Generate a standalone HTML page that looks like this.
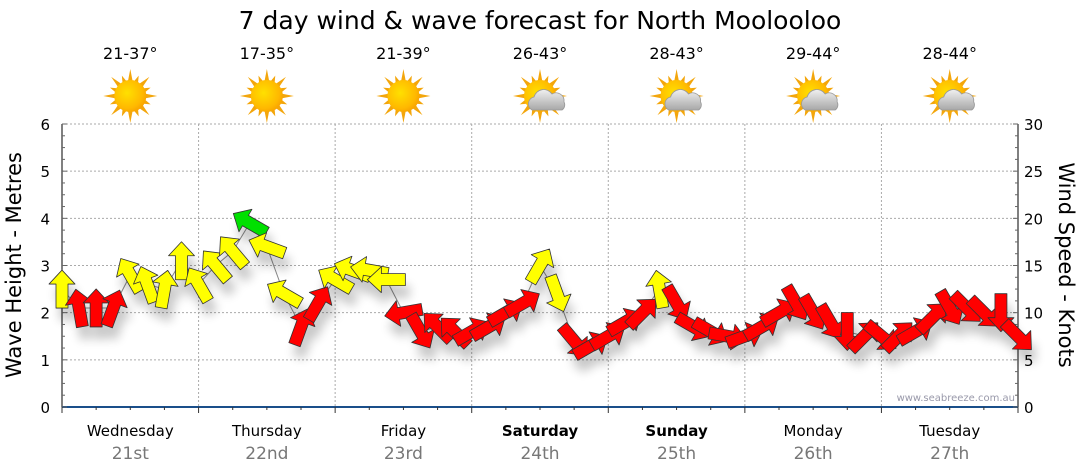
<!DOCTYPE html>
<html><head><meta charset="utf-8"><style>
body{margin:0;background:#fff;}
svg{display:block;font-family:"DejaVu Sans","Liberation Sans",sans-serif;}
</style></head><body>
<svg id="c" width="1080" height="475" viewBox="0 0 1080 475">
<defs>
<filter id="sh" x="-50%" y="-50%" width="200%" height="200%"><feGaussianBlur in="SourceAlpha" stdDeviation="5"/><feOffset dx="4" dy="12"/><feComponentTransfer><feFuncA type="linear" slope="0.22"/></feComponentTransfer><feMerge><feMergeNode/><feMergeNode in="SourceGraphic"/></feMerge></filter>
<radialGradient id="sun" cx="0.4" cy="0.4" r="0.7"><stop offset="0" stop-color="#ffe000"/><stop offset="0.7" stop-color="#ffb800"/><stop offset="1" stop-color="#f59a00"/></radialGradient>
<linearGradient id="cloud" x1="0" y1="0" x2="0" y2="1"><stop offset="0" stop-color="#f0f0f0"/><stop offset="1" stop-color="#a8a8a8"/></linearGradient>
</defs>
<text x="540" y="29" font-size="25" text-anchor="middle" fill="#000">7 day wind &amp; wave forecast for North Moolooloo</text>
<g id="grid"></g>
<g id="icons"></g>
<g id="axes"></g>
<g id="marks" filter="url(#sh)"></g>
<text x="1015" y="401" font-size="10" fill="#99a" text-anchor="end">www.seabreeze.com.au</text>
<text transform="translate(21,265) rotate(-90)" font-size="21" text-anchor="middle">Wave Height - Metres</text>
<text transform="translate(1059,265) rotate(90)" font-size="21" text-anchor="middle">Wind Speed - Knots</text>
</svg>
<script>
const days=["Wednesday","Thursday","Friday","Saturday","Sunday","Monday","Tuesday"];
const dates=["21st","22nd","23rd","24th","25th","26th","27th"];
const temps=["21-37°","17-35°","21-39°","26-43°","28-43°","29-44°","28-44°"];
const cloudy=[false,false,false,true,true,true,true];
const leftTicks=[0,1,2,3,4,5,6];
const rightTicks=[0,5,10,15,20,25,30];
const hours=[0,3,6,9,12,15,18,21,24,27,30,33,36,39,42,45,48,51,54,57,60,63,66,69,72,75,78,81,84,87,90,93,96,99,102,105,108,111,114,117,120,123,126,129,132,135,138,141,144,147,150,153,156,159,162,165,168];
const speeds=[12.5,10.5,10.5,10.5,14,13,12.5,15.5,13,15,16.5,19.5,17,12,8.5,11,13.5,14.5,14.5,13.5,10,8,8.5,8,8,8.5,10,11,15,12,7,6.5,7.5,9,10,12.5,11,8.5,8,7.5,7.5,8.5,10,11,10,9,8,7.5,7.5,7.5,8,9.5,10.5,10.5,10,10,7.5];
const dirs=[0,350,0,20,330,340,10,0,330,320,320,300,290,300,20,30,300,290,280,270,260,150,315,315,60,60,60,60,30,160,140,60,60,60,45,350,150,120,120,100,70,60,60,150,150,150,180,45,130,45,60,45,150,135,135,180,135];
const X0=62,X1=1018,Y0=407,Y1=124;
const xH=h=>X0+h/168*(X1-X0);
const yM=m=>Y0-m/6*(Y0-Y1);
const yK=k=>Y0-k/30*(Y0-Y1);
const NS="http://www.w3.org/2000/svg";
function mk(tag,attrs,parent,txt){const e=document.createElementNS(NS,tag);for(const k in attrs)e.setAttribute(k,attrs[k]);if(txt!==undefined)e.textContent=txt;parent.appendChild(e);return e;}
const grid=document.getElementById('grid'),axes=document.getElementById('axes'),marks=document.getElementById('marks'),icons=document.getElementById('icons');
leftTicks.forEach(v=>{if(v===0)return;const l=mk('line',{x1:X0,x2:X1,y1:yM(v),y2:yM(v),stroke:'#aaa','stroke-dasharray':'2,2','stroke-width':1},grid);

});
for(let d=1;d<7;d++){const l=mk('line',{x1:xH(d*24),x2:xH(d*24),y1:Y1,y2:Y0,stroke:'#aaa','stroke-dasharray':'2,2'},grid);

}
mk('line',{x1:X0,x2:X0,y1:Y1,y2:Y0,stroke:'#000'},axes);
mk('line',{x1:X1,x2:X1,y1:Y1,y2:Y0,stroke:'#000'},axes);
mk('line',{x1:X0,x2:X1,y1:Y0,y2:Y0,stroke:'#1a4f8a','stroke-width':2},axes);
for(let i=0;i<=24;i++){const y=yM(i/4);mk('line',{x1:X0,x2:X0+(i%4?3:5),y1:y,y2:y,stroke:'#666'},axes);mk('line',{x1:X1,x2:X1-(i%4?3:5),y1:y,y2:y,stroke:'#666'},axes);}
for(let h=0;h<=168;h+=6){const x=xH(h);mk('line',{x1:x,x2:x,y1:Y0,y2:Y0+(h%24?3:6),stroke:'#333'},axes);}
leftTicks.forEach(v=>{const t=mk('text',{x:50,y:yM(v)+6,'font-size':15,'text-anchor':'end'},axes,String(v));

});
rightTicks.forEach(v=>{const t=mk('text',{x:1024,y:yK(v)+6,'font-size':15},axes,String(v));

});
days.forEach((d,i)=>{const cx=xH(i*24+12);
const t=mk('text',{x:cx,y:436,'font-size':15,'text-anchor':'middle','font-weight':(i===3||i===4)?'bold':'normal'},axes,d);


const t2=mk('text',{x:cx,y:459,'font-size':17,'text-anchor':'middle',fill:'#777'},axes,dates[i]);


const t3=mk('text',{x:cx,y:59,'font-size':16,'text-anchor':'middle'},icons,temps[i]);


const g=mk('g',{transform:`translate(${cx},96)`},icons);


for(let r=0;r<16;r++){const a=r*22.5,L=r%2?22:27;mk('polygon',{points:`-2.5,-14 0,-${L} 2.5,-14`,fill:'#f3a60c',transform:`rotate(${a})`},g);}
mk('circle',{r:16,fill:'url(#sun)'},g);
if(cloudy[i]){mk('path',{d:'M-8,14 a7,7 0 0 1 2,-13 a10,10 0 0 1 18,-3 a8,8 0 0 1 12,8 a6,6 0 0 1 -2,8 z',fill:'url(#cloud)',stroke:'#999','stroke-width':0.8},g);}
});
let pts=hours.map((h,i)=>xH(h)+','+yK(speeds[i])).join(' ');
const pl=mk('polyline',{points:pts,fill:'none',stroke:'#888','stroke-width':1},grid);


hours.forEach((h,i)=>{const s=speeds[i];const col=s<12?'#ff0000':(s<19?'#ffff00':'#00e000');
const p=mk('polygon',{points:'0,-19 13,-5 6,-5 6,19 -6,19 -6,-5 -13,-5',fill:col,stroke:'#333','stroke-width':0.8,'stroke-linejoin':'round',transform:`translate(${xH(h)},${yK(s)}) rotate(${dirs[i]})`},marks);

});
</script>
</body></html>
